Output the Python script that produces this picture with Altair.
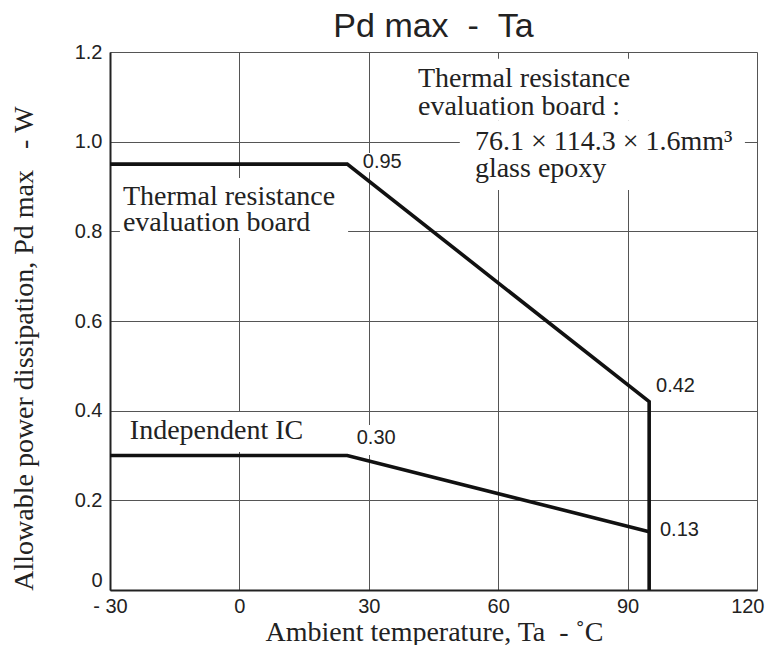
import altair as alt
import pandas as pd

# --- chart data ---
board_ta = [-30, 25, 95, 95]
board_pd = [0.95, 0.95, 0.42, 0.0]
ic_ta = [-30, 25, 95]
ic_pd = [0.30, 0.30, 0.13]

x_ticks = [-30, 0, 30, 60, 90, 120]
y_ticks = [0, 0.2, 0.4, 0.6, 0.8, 1.0, 1.2]

value_labels = ["0.95", "0.30", "0.42", "0.13"]
value_x = [28.6, 27.2, 96.6, 97.5]
value_y = [0.955, 0.340, 0.456, 0.134]

note_text = ["Thermal resistance", "evaluation board", "Independent IC",
             "Thermal resistance", "evaluation board :",
             "76.1 \u00d7 114.3 \u00d7 1.6mm\u00b3", "glass epoxy"]
note_x = [-27.0, -27.0, -25.4, 41.4, 41.4, 54.6, 54.6]
note_y = [0.859, 0.801, 0.337, 1.1226, 1.0595, 0.981, 0.922]

# white backgrounds behind the annotations (hide the grid there)
box_x = [-27.7, -26.5, 26.3, 28.0, 40.7, 51.1]
box_x2 = [25.2, 16.0, 37.0, 38.4, 91.8, 117.2]
box_y = [0.919, 0.397, 0.368, 0.975, 1.185, 1.048]
box_y2 = [0.785, 0.308, 0.301, 0.932, 1.048, 0.892]

title_text = ["Pd max\u00a0\u00a0-\u00a0\u00a0Ta"]

# --- tables ---
lines_df = pd.DataFrame({
    "x": board_ta + ic_ta,
    "y": board_pd + ic_pd,
    "series": ["board"] * len(board_ta) + ["ic"] * len(ic_ta),
    "order": list(range(len(board_ta))) + list(range(len(ic_ta))),
})
vals_df = pd.DataFrame({"x": value_x, "y": value_y, "t": value_labels})
notes_df = pd.DataFrame({"x": note_x, "y": note_y, "t": note_text})
boxes_df = pd.DataFrame({"x": box_x, "x2": box_x2, "y": box_y, "y2": box_y2})
title_df = pd.DataFrame({"t": title_text})

INK = "#222222"
NB = "\u00a0"
W, H = 647, 538

xscale = alt.Scale(domain=[-30, 120], nice=False, zero=False)
yscale = alt.Scale(domain=[0, 1.2], nice=False, zero=False)

xaxis = alt.Axis(
    values=x_ticks, grid=True, gridColor="#555555", gridWidth=1,
    domainColor=INK, domainWidth=2, ticks=False,
    labelFont="Liberation Sans", labelFontSize=20, labelColor=INK,
    labelPadding=6, labelFlush=False, labelOverlap=False,
    labelAlign={"condition": {"test": "datum.value == 120", "value": "right"},
                "value": "center"},
    labelOffset={"condition": {"test": "datum.value == 120", "value": 7},
                 "value": 0},
    labelExpr="datum.value < 0 ? '- ' + abs(datum.value) : datum.label",
    title="Ambient temperature, Ta" + NB + NB + "-" + NB + "\u02daC",
    titleFont="Liberation Serif", titleFontSize=28, titleFontWeight="normal",
    titleColor=INK, titleX=324, titleY=50, titleBaseline="alphabetic",
    titleAlign="center",
)
yaxis = alt.Axis(
    values=y_ticks, grid=True, gridColor="#555555", gridWidth=1,
    domainColor=INK, domainWidth=2, ticks=False,
    labelFont="Liberation Sans", labelFontSize=20, labelColor=INK,
    labelPadding=8, labelOverlap=False,
    labelExpr="datum.value == 0 ? '0' : format(datum.value, '.1f')",
    labelBaseline={"condition": {"test": "datum.value == 0", "value": "bottom"},
                   "value": "middle"},
    title="Allowable power dissipation, Pd max" + NB + NB + NB + "-" + NB + "W",
    titleFont="Liberation Serif", titleFontSize=28, titleFontWeight="normal",
    titleColor=INK, titleX=-78, titleY=296, titleBaseline="alphabetic",
    titleAlign="center", titleAngle=270,
)

X = alt.X("x:Q", scale=xscale, axis=xaxis)
Y = alt.Y("y:Q", scale=yscale, axis=yaxis)

boxes = alt.Chart(boxes_df).mark_rect(color="white").encode(
    x=X, x2="x2:Q", y=Y, y2="y2:Q"
)

lines = alt.Chart(lines_df).mark_line(color="#111111", strokeWidth=3.6,
                                      strokeJoin="miter").encode(
    x=X, y=Y, detail="series:N", order="order:Q"
)

vals = alt.Chart(vals_df).mark_text(
    font="Liberation Sans", fontSize=20, align="left", baseline="middle",
    color=INK
).encode(x=X, y=Y, text="t:N")

notes = alt.Chart(notes_df).mark_text(
    font="Liberation Serif", fontSize=28, align="left", baseline="alphabetic",
    color=INK
).encode(x=X, y=Y, text="t:N")

title = alt.Chart(title_df).mark_text(
    font="Liberation Sans", fontSize=34, align="center", baseline="alphabetic",
    color=INK
).encode(x=alt.value(W / 2), y=alt.value(-15), text="t:N")

chart = alt.layer(boxes, lines, vals, notes, title).properties(
    width=W, height=H,
    autosize=alt.AutoSizeParams(type="none"),
    padding={"left": 102, "top": 44, "right": 8, "bottom": 55},
).configure_view(stroke=INK, strokeWidth=2).configure(background="white")

chart.save("out.html", embed_options={"renderer": "svg", "actions": False})
